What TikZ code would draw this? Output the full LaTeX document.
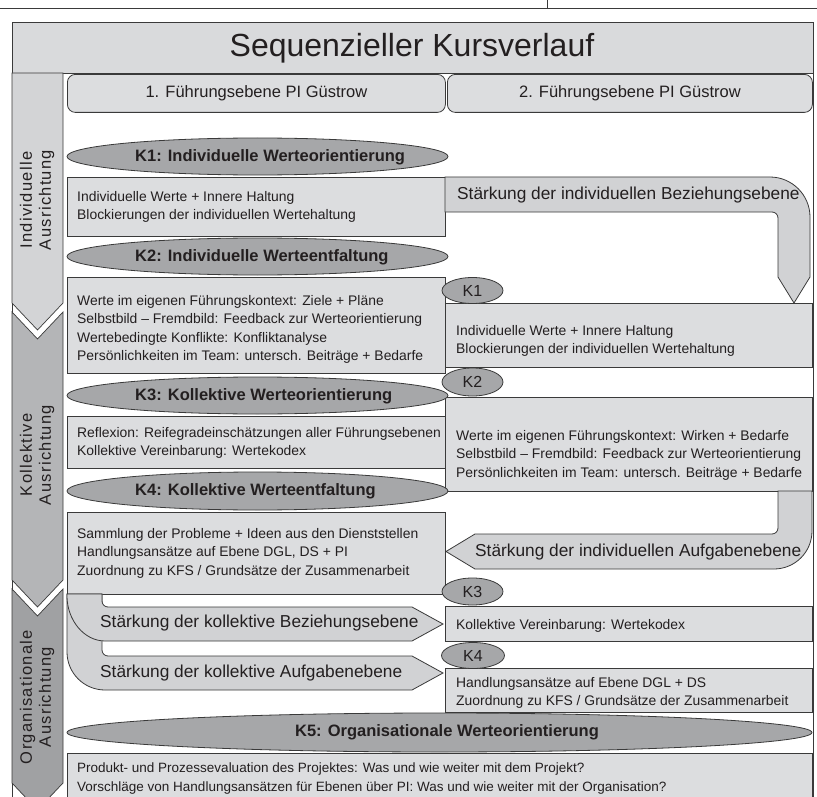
\documentclass[tikz,border=0pt]{standalone}
\usepackage{fontspec}
\setmainfont{Liberation Sans}
\usetikzlibrary{shapes.geometric}
\definecolor{txtc}{HTML}{231F20}
\definecolor{linec}{HTML}{3A3A3A}
\definecolor{bandc}{HTML}{D9DADC}
\definecolor{boxc}{HTML}{DCDDDF}
\definecolor{arrc}{HTML}{D1D2D4}
\definecolor{ellc}{HTML}{A6A7A9}
\definecolor{chevAc}{HTML}{D3D4D6}
\definecolor{chevBc}{HTML}{B4B5B7}
\definecolor{chevCc}{HTML}{A0A1A3}
\newcommand\bodyf{\fontsize{13.9}{18.5}\selectfont}
\newcommand\botf{\fontsize{13.5}{19}\selectfont}
\newcommand\arrf{\fontsize{17.3}{20}\selectfont}
\newcommand\ellf{\fontsize{16.5}{20}\selectfont\bfseries}
\newcommand\headf{\fontsize{16.5}{20}\selectfont}
\newcommand\titlef{\fontsize{32}{36}\selectfont}
\newcommand\chevf{\fontsize{16.5}{19}\selectfont\addfontfeature{LetterSpace=8}}
\newcommand\kf{\fontsize{16}{18}\selectfont}
\tikzset{
  every node/.style={text=txtc},
  frameline/.style={draw=linec, line width=0.9pt},
  thinline/.style={draw=linec, line width=0.6pt},
  lbl/.style={inner sep=0, align=left, anchor=north west, font=\bodyf},
  boxnode/.style={draw=linec, fill=boxc, line width=0.8pt, rectangle, inner sep=0, anchor=north west},
  headnode/.style={draw=linec, fill=boxc, line width=0.8pt, rectangle, rounded corners=8pt, inner sep=0, anchor=north west, minimum height=38, font=\headf},
  ellnode/.style={ellipse, draw=linec, fill=ellc, line width=0.8pt, inner sep=0},
  elltxt/.style={inner sep=0, anchor=west, font=\ellf},
  kell/.style={ellipse, draw=linec, fill=ellc, line width=0.8pt, inner sep=0, minimum width=61, minimum height=26, font=\kf},
  arrshape/.style={draw=linec, fill=arrc, line width=0.8pt},
  arrtxt/.style={inner sep=0, anchor=west, font=\arrf},
  chev/.style={draw=linec, line width=0.7pt},
  chevtxt/.style={inner sep=0, align=center, rotate=90, font=\chevf},
}
\begin{document}
\begin{tikzpicture}[x=1pt,y=-1pt]
\useasboundingbox (0,0) rectangle (817,797);
\clip (0,0) rectangle (817,797);
\fill[white] (0,0) rectangle (817,797);
% page rule at the very top
\coordinate (pl) at (0,8);
\coordinate (pr) at (817,8);
\coordinate (tk) at (547,0);
\coordinate (tb) at (547,8);
\draw[thinline] (pl) -- (pr);
\draw[thinline] (tk) -- (tb);
% title band
\fill[bandc] (12,22) rectangle (813,73);
\draw[frameline] (12,800) -- (12,22) -- (813,22) -- (813,800);
\draw[frameline] (12,73) -- (813,73);
\node[font=\titlef] (title) at (412,48) {Sequenzieller Kursverlauf};
% chevron column
\draw[chev, fill=chevAc] (12,73) -- (63,73) -- (63,303) -- (37.5,330) -- (12,303) -- cycle;
\draw[chev, fill=chevBc] (12,312) -- (37.5,339) -- (63,312) -- (63,580) -- (37.5,607) -- (12,580) -- cycle;
\draw[chev, fill=chevCc] (12,589) -- (37.5,616) -- (63,589) -- (63,783) -- (37.5,810) -- (12,783) -- cycle;
\node[chevtxt] (ca) at (37,200) {Individuelle\\Ausrichtung};
\node[chevtxt] (cb) at (37,455) {Kollektive\\Ausrichtung};
\node[chevtxt] (cc) at (37,697) {Organisationale\\Ausrichtung};
% headers
\node[headnode, minimum width=378] (h1) at (67,74) {1. Führungsebene PI Güstrow};
\node[headnode, minimum width=365] (h2) at (447,74) {2. Führungsebene PI Güstrow};
% left boxes
\node[boxnode, minimum width=378, minimum height=59] (b1) at (67,177) {};
\node[boxnode, minimum width=378, minimum height=96] (b2) at (67,277) {};
\node[boxnode, minimum width=378, minimum height=52] (b3) at (67,416) {};
\node[boxnode, minimum width=378, minimum height=82] (b4) at (67,512) {};
\node[lbl] (t1) at (77,188) {\strut Individuelle Werte + Innere Haltung\\Blockierungen der individuellen Wertehaltung};
\node[lbl] (t2) at (77,292) {\strut Werte im eigenen Führungskontext: Ziele + Pläne\\Selbstbild – Fremdbild: Feedback zur Werteorientierung\\Wertebedingte Konflikte: Konfliktanalyse\\Persönlichkeiten im Team: untersch. Beiträge + Bedarfe};
\node[lbl] (t3) at (77,424) {\strut Reflexion: Reifegradeinschätzungen aller Führungsebenen\\Kollektive Vereinbarung: Wertekodex};
\node[lbl] (t4) at (77,525) {\strut Sammlung der Probleme + Ideen aus den Dienststellen\\Handlungsansätze auf Ebene DGL, DS + PI\\Zuordnung zu KFS / Grundsätze der Zusammenarbeit};
% left bent arrows
\draw[arrshape] (67,594) -- (67,652) .. controls (67,673) and (84,690) .. (105,690) -- (412,690) -- (443,673) -- (412,656) -- (108,656) .. controls (104.7,656) and (102,653.3) .. (102,650) -- (102,594) -- cycle;
\draw[arrshape] (67,594) -- (67,596) .. controls (67,620) and (84,641) .. (105,641) -- (412,641) -- (443,624) -- (412,607) -- (108,607) .. controls (104.7,607) and (102,604.3) .. (102,601) -- (102,594) -- cycle;
\node[arrtxt] (la) at (100,623) {Stärkung der kollektive Beziehungsebene};
\node[arrtxt] (lb) at (100,673) {Stärkung der kollektive Aufgabenebene};
% right arrows
\draw[arrshape] (445,177) -- (770,177) .. controls (792,177) and (810,195) .. (810,217) -- (810,277) -- (794,303) -- (778,277) -- (778,218) .. controls (778,214.7) and (775.3,212) .. (772,212) -- (445,212) -- cycle;
\node[arrtxt] (ra) at (457,195) {Stärkung der individuellen Beziehungsebene};
\node[boxnode, minimum width=367, minimum height=64] (r1) at (445,303) {};
\node[boxnode, minimum width=367, minimum height=94] (r2) at (445,397) {};
\draw[arrshape] (778,491) -- (778,528) .. controls (778,531.3) and (775.3,534) .. (772,534) -- (475,534) -- (446,551.5) -- (475,569) -- (774,569) .. controls (795,569) and (812,552) .. (812,531) -- (812,491) -- cycle;
\node[arrtxt] (rb) at (475,552) {Stärkung der individuellen Aufgabenebene};
\node[boxnode, minimum width=367, minimum height=35] (r3) at (445,606) {};
\node[boxnode, minimum width=367, minimum height=44] (r4) at (445,668) {};
\node[lbl] (s1) at (456,322) {\strut Individuelle Werte + Innere Haltung\\Blockierungen der individuellen Wertehaltung};
\node[lbl] (s2) at (456,427) {\strut Werte im eigenen Führungskontext: Wirken + Bedarfe\\Selbstbild – Fremdbild: Feedback zur Werteorientierung\\Persönlichkeiten im Team: untersch. Beiträge + Bedarfe};
\node[lbl] (s3) at (456,616) {\strut Kollektive Vereinbarung: Wertekodex};
\node[lbl] (s4) at (456,674) {\strut Handlungsansätze auf Ebene DGL + DS\\Zuordnung zu KFS / Grundsätze der Zusammenarbeit};
% bottom
\node[boxnode, minimum width=745, minimum height=50] (b5) at (67,753) {};
\node[lbl, font=\botf] (t5) at (77,759) {\strut Produkt- und Prozessevaluation des Projektes: Was und wie weiter mit dem Projekt?\\Vorschläge von Handlungsansätzen für Ebenen über PI: Was und wie weiter mit der Organisation?};
% big ellipses
\node[ellnode, minimum width=381, minimum height=37] (k1) at (257.5,156.5) {};
\node[elltxt] (k1t) at (135,157) {K1: Individuelle Werteorientierung};
\node[ellnode, minimum width=381, minimum height=37] (k2) at (257.5,256.5) {};
\node[elltxt] (k2t) at (135,257) {K2: Individuelle Werteentfaltung};
\node[ellnode, minimum width=381, minimum height=37] (k3) at (257.5,395.5) {};
\node[elltxt] (k3t) at (135,396) {K3: Kollektive Werteorientierung};
\node[ellnode, minimum width=381, minimum height=38] (k4) at (257.5,491) {};
\node[elltxt] (k4t) at (135,491) {K4: Kollektive Werteentfaltung};
\node[ellnode, minimum width=745, minimum height=39] (k5) at (439.5,732.5) {};
\node[elltxt, anchor=center] (k5t) at (447,732.5) {K5: Organisationale Werteorientierung};
% small ellipses
\node[kell] (k1s) at (472.5,290.5) {K1};
\node[kell, minimum height=28] (k2s) at (472.5,382) {K2};
\node[kell, minimum height=27] (k3s) at (472.5,591.5) {K3};
\node[kell, minimum width=63] (k4s) at (473,655.5) {K4};
\end{tikzpicture}
\end{document}
